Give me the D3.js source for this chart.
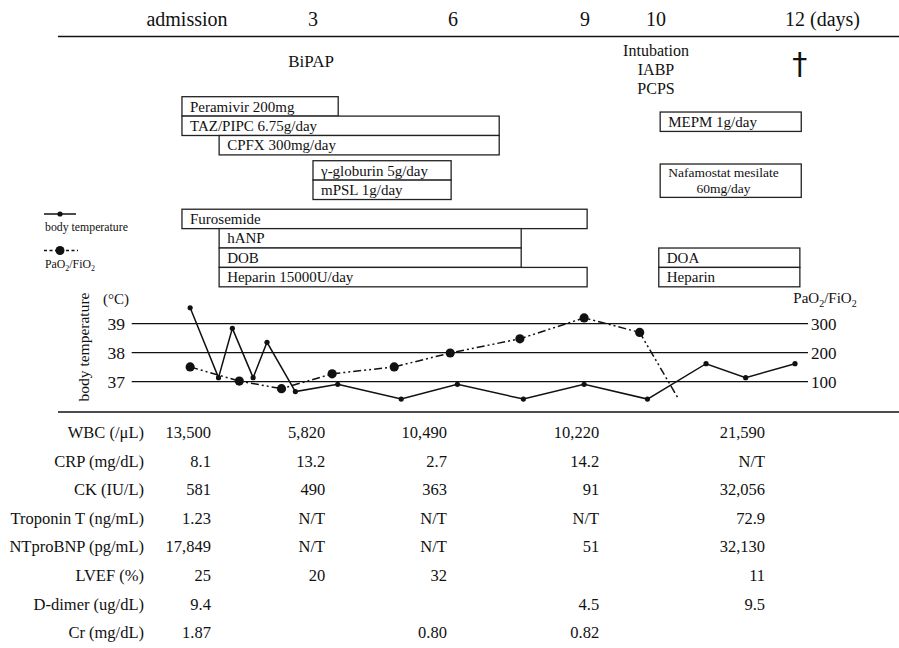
<!DOCTYPE html>
<html>
<head>
<meta charset="utf-8">
<script src="https://cdn.jsdelivr.net/npm/d3@7/dist/d3.min.js"></script>
<style>
  html, body { margin: 0; padding: 0; background: #fff; }
  svg { display: block; }
  text { font-family: "Liberation Serif", "Times New Roman", "DejaVu Serif", serif; fill: #111; }
</style>
</head>
<body>
<svg id="chart" width="899" height="648"></svg>
<script>
// ---------------- DATA ----------------
const headerLabels = ["admission", "3", "6", "9", "10", "12"];
const headerDays = [1, 3, 6, 9, 10, 12];
const headerUnit = "(days)";

const eventLabels = [["BiPAP"], ["Intubation", "IABP", "PCPS"], ["†"]];
const eventDays = [2.97, 10, 12.07];

const drugNames = ["Peramivir 200mg", "TAZ/PIPC 6.75g/day", "CPFX 300mg/day",
  "γ-globurin 5g/day", "mPSL 1g/day", "Furosemide", "hANP", "DOB",
  "Heparin 15000U/day", "MEPM 1g/day", "Nafamostat mesilate|60mg/day", "DOA", "Heparin"];
const drugStart = [0.92, 0.92, 1.51, 3.0, 3.0, 0.92, 1.51, 1.51, 1.51, 10.06, 10.06, 10.04, 10.04];
const drugEnd   = [3.54, 7.05, 7.05, 5.96, 5.96, 9.03, 7.55, 7.55, 9.03, 12.09, 12.09, 12.07, 12.07];
const drugRow   = [0, 1, 2, 3.3, 4.3, 5.8, 6.8, 7.8, 8.8, 0.79, 3.47, 7.8, 8.8];
const drugRowSpan = [1, 1, 1, 1, 1, 1, 1, 1, 1, 1, 1.72, 1, 1];

const tempDays   = [1.05, 1.50, 1.72, 2.05, 2.27, 2.72, 3.53, 4.89, 6.10, 7.60, 8.98, 9.88, 10.72, 11.29, 12.0];
const tempValues = [39.55, 37.14, 38.84, 37.14, 38.36, 36.66, 36.91, 36.4, 36.91, 36.4, 36.91, 36.4, 37.62, 37.14, 37.62];

const paoDays   = [1.05, 1.83, 2.50, 3.41, 4.74, 5.94, 7.52, 8.98, 9.77, 10.31];
const paoValues = [151, 102, 76, 127, 151, 199, 248, 320, 270, 46];
// last PaO2 value is the end of the falling line (no marker drawn in the source)

const tempTicks = [37, 38, 39];
const paoTicks = [100, 200, 300];

const labNames = ["WBC (/μL)", "CRP (mg/dL)", "CK (IU/L)", "Troponin T (ng/mL)",
  "NTproBNP (pg/mL)", "LVEF (%)", "D-dimer (ug/dL)", "Cr (mg/dL)"];
const labColDays = [1.38, 3.26, 5.87, 9.2, 11.57];
const labWBC   = ["13,500", "5,820", "10,490", "10,220", "21,590"];
const labCRP   = ["8.1", "13.2", "2.7", "14.2", "N/T"];
const labCK    = ["581", "490", "363", "91", "32,056"];
const labTnT   = ["1.23", "N/T", "N/T", "N/T", "72.9"];
const labBNP   = ["17,849", "N/T", "N/T", "51", "32,130"];
const labLVEF  = ["25", "20", "32", "", "11"];
const labDD    = ["9.4", "", "", "4.5", "9.5"];
const labCr    = ["1.87", "", "0.80", "0.82", ""];
const labTable = [labWBC, labCRP, labCK, labTnT, labBNP, labLVEF, labDD, labCr];

// ---------------- LAYOUT ----------------
const svg = d3.select("#chart");
const ink = "#111";

// piecewise day scale (the source timeline is not evenly spaced)
const x = d3.scaleLinear().domain(headerDays).range([187, 313, 453, 585, 656, 795]);
const yT = d3.scaleLinear().domain([37, 39]).range([381.7, 323.7]);
const yP = d3.scaleLinear().domain([100, 300]).range([381.7, 323.7]);
const rowY = d3.scaleLinear().domain([0, 1]).range([96.7, 116.1]);
const labY = d3.scaleLinear().domain([0, 1]).range([438, 466.6]);

// header
const hdr = svg.append("g");
hdr.selectAll("text.h").data(headerLabels).join("text")
  .attr("class", "h")
  .attr("x", (d, i) => x(headerDays[i]))
  .attr("y", 26)
  .attr("text-anchor", "middle")
  .attr("font-size", 20)
  .text(d => d);
hdr.append("text")
  .attr("x", x(12) + 15).attr("y", 26)
  .attr("font-size", 20).text(headerUnit);
svg.append("line").attr("x1", 58).attr("x2", 899).attr("y1", 36.5).attr("y2", 36.5)
  .attr("stroke", ink).attr("stroke-width", 1.6);

// events
const ev = svg.append("g");
eventLabels.forEach((lines, i) => {
  if (lines[0] === "†") {
    ev.append("text")
      .attr("x", x(eventDays[i])).attr("y", 74)
      .attr("text-anchor", "middle").attr("font-size", 30)
      .style("font-family", "'DejaVu Sans', sans-serif").text(lines[0]);
  } else {
    lines.forEach((s, j) => {
      ev.append("text").attr("x", x(eventDays[i])).attr("y", (lines.length === 1 ? 67 : 56) + j * 19)
        .attr("text-anchor", "middle").attr("font-size", lines.length === 1 ? 17 : 16).text(s);
    });
  }
});

// drug boxes
const dg = svg.append("g");
drugNames.forEach((name, i) => {
  const x0 = x(drugStart[i]), x1 = x(drugEnd[i]);
  const y0 = rowY(drugRow[i]), y1 = rowY(drugRow[i] + drugRowSpan[i]);
  dg.append("rect").attr("x", x0).attr("y", y0).attr("width", x1 - x0).attr("height", y1 - y0)
    .attr("fill", "#fff").attr("stroke", "#222").attr("stroke-width", 1.3);
  const parts = name.split("|");
  if (parts.length === 1) {
    dg.append("text").attr("x", x0 + 8).attr("y", y0 + 14.8)
      .attr("font-size", 15).text(parts[0]);
  } else {
    const t1 = dg.append("text").attr("x", x0 + 8).attr("y", y0 + 13)
      .attr("font-size", 13.5).text(parts[0]);
    const w = t1.node().getComputedTextLength();
    dg.append("text").attr("x", x0 + 8 + w / 2).attr("y", y0 + 29)
      .attr("text-anchor", "middle").attr("font-size", 13.5).text(parts[1]);
  }
});

// legend
const lg = svg.append("g");
lg.append("line").attr("x1", 44).attr("x2", 76).attr("y1", 214).attr("y2", 214)
  .attr("stroke", ink).attr("stroke-width", 1.5);
lg.append("circle").attr("cx", 60).attr("cy", 214).attr("r", 2.6).attr("fill", ink);
lg.append("text").attr("x", 45).attr("y", 231).attr("font-size", 11.8).text("body temperature");
lg.append("line").attr("x1", 44).attr("x2", 78).attr("y1", 250.5).attr("y2", 250.5)
  .attr("stroke", ink).attr("stroke-width", 1.5).attr("stroke-dasharray", "3,2.5");
lg.append("circle").attr("cx", 60).attr("cy", 250.5).attr("r", 4.5).attr("fill", ink);
const lt = lg.append("text").attr("x", 45).attr("y", 268).attr("font-size", 11.8);
lt.append("tspan").text("PaO");
lt.append("tspan").attr("font-size", 8).attr("dy", 3).text("2");
lt.append("tspan").attr("dy", -3).text("/FiO");
lt.append("tspan").attr("font-size", 8).attr("dy", 3).text("2");

// chart gridlines and axes
const ch = svg.append("g");
ch.selectAll("line.grid").data(tempTicks).join("line")
  .attr("class", "grid")
  .attr("x1", 131.7).attr("x2", 808)
  .attr("y1", d => yT(d)).attr("y2", d => yT(d))
  .attr("stroke", ink).attr("stroke-width", 1.3);
ch.selectAll("text.lt").data(tempTicks).join("text")
  .attr("class", "lt")
  .attr("x", 125).attr("y", d => yT(d) + 6)
  .attr("text-anchor", "end").attr("font-size", 17.5).text(d => d);
ch.selectAll("text.rt").data(paoTicks).join("text")
  .attr("class", "rt")
  .attr("x", 811).attr("y", d => yP(d) + 6)
  .attr("font-size", 17).text(d => d);
ch.append("text").attr("x", 116).attr("y", 304).attr("text-anchor", "middle")
  .attr("font-size", 15).text("(°C)");
ch.append("text").attr("transform", "translate(89,347) rotate(-90)")
  .attr("text-anchor", "middle").attr("font-size", 15.5).text("body temperature");
const rl = ch.append("text").attr("x", 825).attr("y", 303).attr("text-anchor", "middle").attr("font-size", 15);
rl.append("tspan").text("PaO");
rl.append("tspan").attr("font-size", 10).attr("dy", 4).text("2");
rl.append("tspan").attr("dy", -4).text("/FiO");
rl.append("tspan").attr("font-size", 10).attr("dy", 4).text("2");

// PaO2 line
const paoPts = paoDays.map((d, i) => [x(d), yP(paoValues[i])]);
ch.append("path").attr("d", d3.line()(paoPts))
  .attr("fill", "none").attr("stroke", ink).attr("stroke-width", 1.5)
  .attr("stroke-dasharray", "8,3,2,3,2,3");
ch.selectAll("circle.p").data(paoPts.slice(0, paoPts.length - 1)).join("circle")
  .attr("class", "p").attr("cx", d => d[0]).attr("cy", d => d[1]).attr("r", 4.6).attr("fill", ink);

// temperature line
const tPts = tempDays.map((d, i) => [x(d), yT(tempValues[i])]);
ch.append("path").attr("d", d3.line()(tPts))
  .attr("fill", "none").attr("stroke", ink).attr("stroke-width", 1.5);
ch.selectAll("circle.t").data(tPts).join("circle")
  .attr("class", "t").attr("cx", d => d[0]).attr("cy", d => d[1]).attr("r", 2.6).attr("fill", ink);

// separator
svg.append("line").attr("x1", 58).attr("x2", 899).attr("y1", 412).attr("y2", 412)
  .attr("stroke", ink).attr("stroke-width", 1.6);

// lab table
const tb = svg.append("g");
labNames.forEach((n, r) => {
  tb.append("text").attr("x", 144).attr("y", labY(r)).attr("text-anchor", "end")
    .attr("font-size", 16.5).text(n);
  labTable[r].forEach((v, c) => {
    if (!v) return;
    tb.append("text").attr("x", x(labColDays[c])).attr("y", labY(r))
      .attr("text-anchor", "end").attr("font-size", 16.5).text(v);
  });
});
</script>
</body>
</html>
